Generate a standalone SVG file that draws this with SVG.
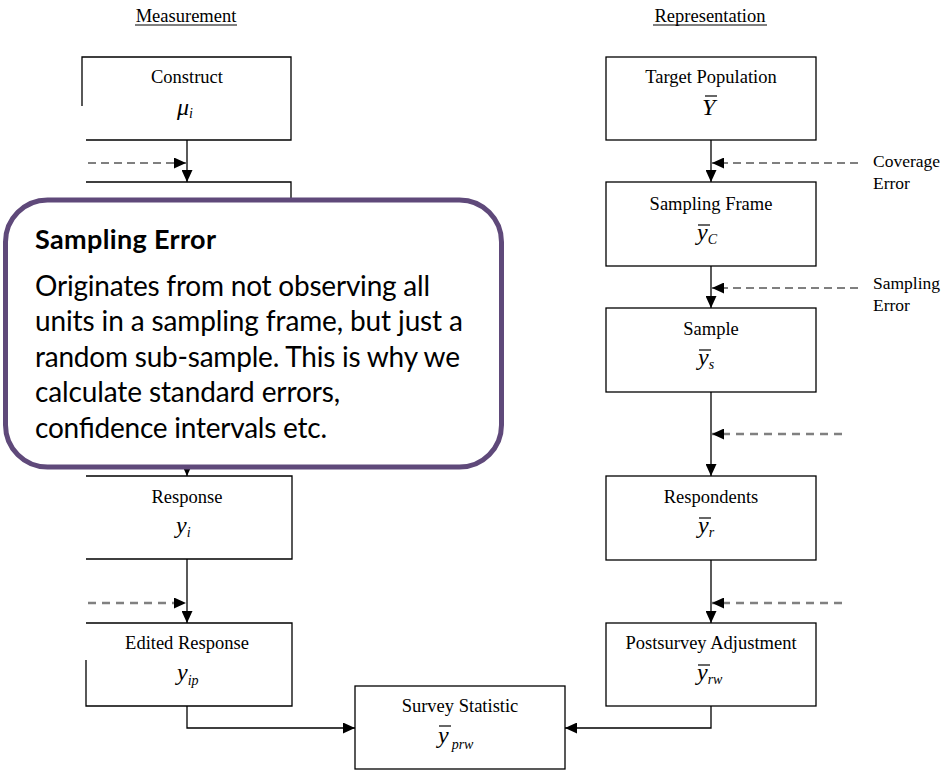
<svg xmlns="http://www.w3.org/2000/svg" width="945" height="772" viewBox="0 0 945 772">
<style>
.box{fill:#fff;stroke:#000;stroke-width:1.3}
.lbl{font-family:"Liberation Serif","Times New Roman",serif;font-size:18.5px;fill:#000;text-anchor:middle}
.side{font-family:"Liberation Serif","Times New Roman",serif;font-size:17.5px;fill:#000}
.m{font-family:"Liberation Serif","Times New Roman",serif;font-style:italic;font-size:24px;fill:#000}
.sub{font-size:14px}
.bar{stroke:#000;stroke-width:1.2}
.conn{fill:none;stroke:#000;stroke-width:1.3}
.dblk{fill:none;stroke:#000;stroke-width:1;stroke-dasharray:8 5}
.dgry{fill:none;stroke:#808080;stroke-width:2.5;stroke-dasharray:8 6}
.callout{fill:#fff;stroke:#5F497A;stroke-width:5}
.ct{font-family:Lato,"Open Sans","Liberation Sans",sans-serif;font-size:28px;fill:#000}
.ctb{font-family:Lato,"Open Sans","Liberation Sans",sans-serif;font-size:27px;font-weight:bold;fill:#000}
</style>
<defs>
<marker id="ah" viewBox="0 0 12 11" refX="12" refY="5.5" markerWidth="12" markerHeight="11" markerUnits="userSpaceOnUse" orient="auto">
<path d="M0,0 L12,5.5 L0,11 z" fill="#000"/>
</marker>
</defs>
<rect width="945" height="772" fill="#fff"/>

<g id="headings">
<text class="lbl" x="186" y="22">Measurement</text>
<line class="bar" x1="135" y1="25" x2="237" y2="25"/>
<text class="lbl" x="710" y="22">Representation</text>
<line class="bar" x1="653" y1="25" x2="767" y2="25"/>
</g>

<g id="connectors">
<path class="conn" d="M187,140 V182" marker-end="url(#ah)"/>
<path class="dblk" d="M88,163 H186" marker-end="url(#ah)"/>
<path class="conn" d="M187,450 V476" marker-end="url(#ah)"/>
<path class="conn" d="M187,559 V623" marker-end="url(#ah)"/>
<path class="dgry" d="M88,603 H186" marker-end="url(#ah)"/>
<path class="conn" d="M187,706 V728 H355" marker-end="url(#ah)"/>
<path class="conn" d="M711,140 V182" marker-end="url(#ah)"/>
<path class="dblk" d="M858,163 H712" marker-end="url(#ah)"/>
<path class="conn" d="M711,266 V308" marker-end="url(#ah)"/>
<path class="dblk" d="M858,288 H712" marker-end="url(#ah)"/>
<path class="conn" d="M711,392 V476" marker-end="url(#ah)"/>
<path class="dgry" d="M842,434 H712" marker-end="url(#ah)"/>
<path class="conn" d="M711,560 V623" marker-end="url(#ah)"/>
<path class="dgry" d="M842,603 H712" marker-end="url(#ah)"/>
<path class="conn" d="M711,706 V728 H565" marker-end="url(#ah)"/>
</g>

<g id="construct">
<path class="box" d="M82,106 V57 H291 V140 H86"/>
<text class="lbl" x="187" y="83">Construct</text>
<text class="m" x="177" y="115">μ<tspan class="sub" dy="3">i</tspan></text>
</g>

<g id="measurement">
<path class="box" d="M86,182 H291 V265 H86"/>
</g>

<g id="response">
<path class="box" d="M86,476 H292 V559 H86"/>
<text class="lbl" x="187" y="503">Response</text>
<text class="m" x="176" y="533">y<tspan class="sub" dy="4">i</tspan></text>
</g>

<g id="edited-response">
<path class="box" d="M86,660 V706 H292 V623 H86"/>
<text class="lbl" x="187" y="649">Edited Response</text>
<text class="m" x="177" y="680">y<tspan class="sub" dy="5">ip</tspan></text>
</g>

<g id="target-population">
<rect class="box" x="606" y="57" width="210" height="83"/>
<text class="lbl" x="711" y="83">Target Population</text>
<text class="m" x="702" y="115">Y</text>
<line class="bar" x1="705" y1="96" x2="717" y2="96"/>
</g>

<g id="sampling-frame">
<rect class="box" x="606" y="182" width="210" height="84"/>
<text class="lbl" x="711" y="210">Sampling Frame</text>
<text class="m" x="697" y="240">y<tspan class="sub" dy="4">C</tspan></text>
<line class="bar" x1="698" y1="225" x2="710" y2="225"/>
</g>

<g id="sample">
<rect class="box" x="606" y="308" width="210" height="84"/>
<text class="lbl" x="711" y="335">Sample</text>
<text class="m" x="698" y="365">y<tspan class="sub" dy="4">s</tspan></text>
<line class="bar" x1="699" y1="350" x2="711" y2="350"/>
</g>

<g id="respondents">
<rect class="box" x="606" y="476" width="210" height="84"/>
<text class="lbl" x="711" y="503">Respondents</text>
<text class="m" x="698" y="533">y<tspan class="sub" dy="4">r</tspan></text>
<line class="bar" x1="699" y1="518" x2="711" y2="518"/>
</g>

<g id="postsurvey-adjustment">
<rect class="box" x="606" y="623" width="210" height="83"/>
<text class="lbl" x="711" y="649">Postsurvey Adjustment</text>
<text class="m" x="697" y="680">y<tspan class="sub" dy="4">rw</tspan></text>
<line class="bar" x1="698" y1="665" x2="710" y2="665"/>
</g>

<g id="survey-statistic">
<rect class="box" x="355" y="686" width="210" height="83"/>
<text class="lbl" x="460" y="712">Survey Statistic</text>
<text class="m" x="438" y="743">y<tspan class="sub" dx="3" dy="6">prw</tspan></text>
<line class="bar" x1="439" y1="726" x2="451" y2="726"/>
</g>

<g id="error-labels">
<text class="side" x="873" y="167">Coverage</text>
<text class="side" x="873" y="189">Error</text>
<text class="side" x="873" y="289">Sampling</text>
<text class="side" x="873" y="311">Error</text>
</g>

<g id="callout">
<rect class="callout" x="5.5" y="200" width="496" height="267" rx="42" ry="42"/>
<text class="ctb" x="35" y="249" textLength="181">Sampling Error</text>
<text class="ct" x="35" y="296" textLength="395">Originates from not observing all</text>
<text class="ct" x="35" y="331" textLength="428">units in a sampling frame, but just a</text>
<text class="ct" x="35" y="367" textLength="425">random sub-sample. This is why we</text>
<text class="ct" x="35" y="402" textLength="305">calculate standard errors,</text>
<text class="ct" x="35" y="438" textLength="292">confidence intervals etc.</text>
</g>
</svg>
